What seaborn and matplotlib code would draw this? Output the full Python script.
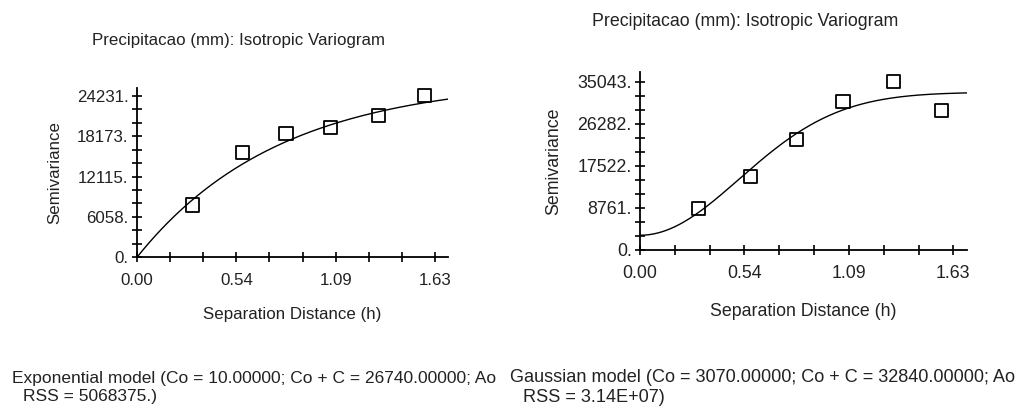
import numpy as np
import pandas as pd
import matplotlib
matplotlib.use("Agg")
import matplotlib.pyplot as plt
import seaborn as sns

# Lag classes (separation distance, h) shared by both variograms
lag_distance = [0.304, 0.577, 0.815, 1.056, 1.319, 1.570]

# Experimental semivariances per lag
semivar_exponential = [7844, 15688, 18585, 19435, 21233, 24231]
semivar_gaussian = [8674, 15405, 23107, 31017, 35043, 29144]

# Fitted model parameters
exp_nugget = 10.0
exp_sill = 26740.0
exp_range = 0.78
exp_rss = "5068375."
gau_nugget = 3070.0
gau_sill = 32840.0
gau_range = 0.73
gau_rss = "3.14E+07"

# Axis ticks
x_tick_labels = ["0.00", "0.54", "1.09", "1.63"]
x_tick_max = 1.63
y_tick_labels_exp = ["0.", "6058.", "12115.", "18173.", "24231."]
y_tick_max_exp = 24231
y_tick_labels_gau = ["0.", "8761.", "17522.", "26282.", "35043."]
y_tick_max_gau = 35043

title_text = "Precipitacao (mm): Isotropic Variogram"
x_label = "Separation Distance (h)"
y_label = "Semivariance"

sns.set_theme(style="white")
plt.rcParams["font.family"] = ["Liberation Sans", "DejaVu Sans"]
TEXT = "#222222"

W, H = 1018, 412
fig = plt.figure(figsize=(W / 100, H / 100), dpi=100)
fig.patch.set_facecolor("white")


def px_axes(x0, y0, x1, y1):
    """Axes from pixel box (left, top, right, bottom)."""
    return fig.add_axes([x0 / W, 1 - y1 / H, (x1 - x0) / W, (y1 - y0) / H])


def exponential(h, c0, sill, a):
    return c0 + (sill - c0) * (1 - np.exp(-h / a))


def gaussian(h, c0, sill, a):
    return c0 + (sill - c0) * (1 - np.exp(-(h / a) ** 2))


def draw_panel(ax, semivar, model, y_labels, y_max, xlim, ylim, fs,
               xlab_y, ylab_x):
    h = np.linspace(0, xlim, 300)
    curve = pd.DataFrame({"h": h, "g": model(h)})
    sns.lineplot(data=curve, x="h", y="g", ax=ax, color="black",
                 linewidth=1.0, zorder=2)
    pts = pd.DataFrame({"h": lag_distance, "g": semivar})
    sns.scatterplot(data=pts, x="h", y="g", ax=ax, marker="s", s=88,
                    facecolor="none", edgecolor="black", linewidth=1.3,
                    zorder=3)
    ax.set_xlim(0, xlim)
    ax.set_ylim(0, ylim)
    ax.set_facecolor("white")
    for side in ("top", "right"):
        ax.spines[side].set_visible(False)
    for side in ("left", "bottom"):
        ax.spines[side].set_color("black")
        ax.spines[side].set_linewidth(1.3)

    ax.set_xticks(np.linspace(0, x_tick_max, len(x_tick_labels)))
    ax.set_xticklabels(x_tick_labels)
    ax.set_xticks(np.linspace(0, x_tick_max, 3 * (len(x_tick_labels) - 1) + 1),
                  minor=True)
    ax.set_yticks(np.linspace(0, y_max, len(y_labels)))
    ax.set_yticklabels(y_labels)
    ax.set_yticks(np.linspace(0, y_max, 3 * (len(y_labels) - 1) + 1),
                  minor=True)
    ax.tick_params(which="both", direction="inout", length=7, width=1.2,
                   color="black", labelcolor=TEXT, labelsize=fs)
    ax.tick_params(axis="x", which="both", pad=7.5, bottom=True)
    ax.tick_params(axis="y", which="both", pad=2.5, left=True)

    ax.set_xlabel(x_label, fontsize=fs, color=TEXT)
    ax.set_ylabel(y_label, fontsize=fs, color=TEXT)
    ax.xaxis.set_label_coords(0.5, xlab_y)
    ax.yaxis.set_label_coords(ylab_x, 0.5)


# Left panel: exponential model
ax1 = px_axes(137, 88.3, 448, 257.3)
draw_panel(ax1, semivar_exponential,
           lambda h: exponential(h, exp_nugget, exp_sill, exp_range),
           y_tick_labels_exp, y_tick_max_exp, 1.701, 25341, 12.2,
           -0.294, -0.241)

# Right panel: gaussian model
ax2 = px_axes(640, 71.7, 967, 250)
draw_panel(ax2, semivar_gaussian,
           lambda h: gaussian(h, gau_nugget, gau_sill, gau_range),
           y_tick_labels_gau, y_tick_max_gau, 1.701, 37125, 12.8,
           -0.297, -0.239)

# Titles
fig.text(92 / W, 1 - 40 / H, title_text, ha="left", va="center",
         fontsize=12.2, color=TEXT)
fig.text(592 / W, 1 - 22 / H, title_text, ha="left", va="center",
         fontsize=12.8, color=TEXT)

# Model summaries
fig.text(12 / W, 1 - 378 / H,
         f"Exponential model (Co = {exp_nugget:.5f}; Co + C = {exp_sill:.5f}; Ao",
         ha="left", va="center", fontsize=12.5, color=TEXT)
fig.text(23 / W, 1 - 397 / H, f"RSS = {exp_rss})",
         ha="left", va="center", fontsize=12.5, color=TEXT)
fig.text(510 / W, 1 - 377 / H,
         f"Gaussian model (Co = {gau_nugget:.5f}; Co + C = {gau_sill:.5f}; Ao",
         ha="left", va="center", fontsize=13.1, color=TEXT)
fig.text(523 / W, 1 - 397 / H, f"RSS = {gau_rss})",
         ha="left", va="center", fontsize=13.1, color=TEXT)

fig.savefig("out.png", dpi=100, facecolor="white")
